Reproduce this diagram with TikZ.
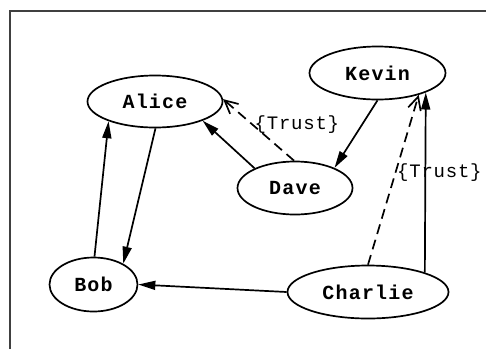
\documentclass[tikz,border=0pt]{standalone}
\usepackage{fontspec}
\newfontfamily\namefont[LetterSpace = 6]{Liberation Mono}
\newfontfamily\tagfont[LetterSpace = 4]{Liberation Mono}
\usetikzlibrary{arrows.meta, shapes.geometric}

\begin{document}

\begin{tikzpicture}[> = {Triangle[length = 17pt, width = 9pt]}, x = 1pt, y = -1pt, line width = 1.7pt,
	person/.style = {draw, ellipse, inner sep = 0pt, font = \namefont\bfseries\fontsize{20}{24}\selectfont},
	trust/.style = {dash pattern = on 10pt off 6pt, -{Straight Barb[length = 13pt, width = 13pt]}},
	tag/.style = {anchor = west, inner sep = 1pt, font = \tagfont\fontsize{19}{23}\selectfont}]

	\useasboundingbox (0, 0) rectangle (486, 349);

	% Frame

	\draw [black!75, line width = 1.5pt] (10, 349) -- (10, 11) -- (486, 11);

	% People

	\node [person, minimum width = 135pt, minimum height = 52pt] (alice) at (155, 101.5) {Alice};
	\node [person, minimum width = 136pt, minimum height = 53pt] (kevin) at (377.5, 73) {Kevin};
	\node [person, minimum width = 115pt, minimum height = 53pt] (dave) at (295, 188) {Dave};
	\node [person, minimum width = 88pt, minimum height = 54pt] (bob) at (93.5, 284.5) {Bob};
	\node [person, minimum width = 161pt, minimum height = 53pt] (charlie) at (368, 292) {Charlie};

	% Links

	\draw [->] (bob.88) -- (alice.203);
	\draw [->] (alice.-89) -- (bob.35);
	\draw [->] (dave.154) -- (alice.-22);
	\draw [trust] (dave.92) -- node [tag, pos = 0.58] {\{Trust\}} (alice.2);
	\draw [->] (kevin.-90) -- (dave.27);
	\draw [->] (charlie.19) -- (kevin.-22);
	\draw [trust] (charlie.90) -- node [tag, pos = 0.54] {\{Trust\}} (kevin.-28);
	\draw [->] (charlie.west) -- (bob.east);

\end{tikzpicture}

\end{document}
